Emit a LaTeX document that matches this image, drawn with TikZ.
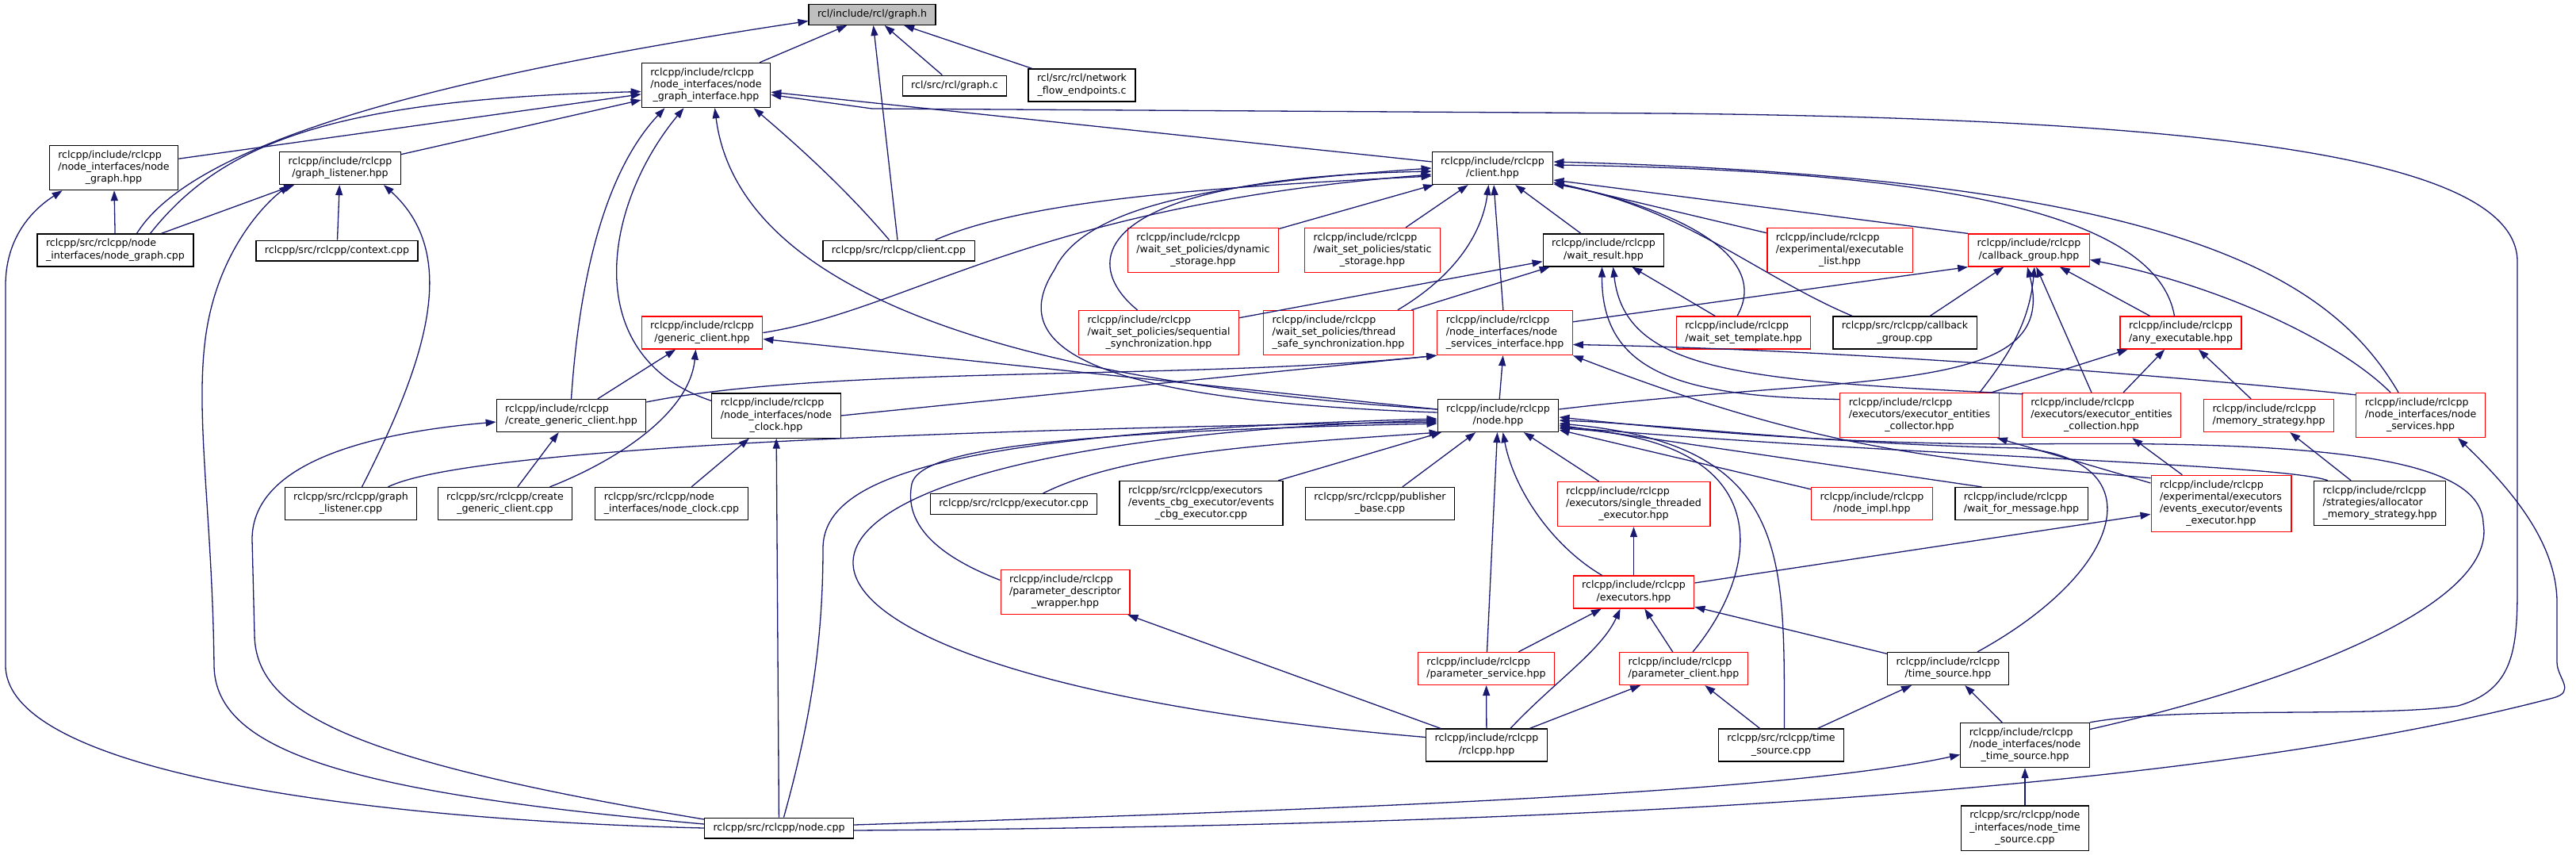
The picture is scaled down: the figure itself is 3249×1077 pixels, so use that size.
\documentclass[tikz,border=0pt]{standalone}
\usepackage{fontspec}
\setmainfont{DejaVu Sans}
\usepackage{tikz}
\usetikzlibrary{arrows.meta,calc}
\usepackage{xcolor}
\definecolor{edgeblue}{HTML}{191970}
\definecolor{nodegray}{HTML}{BFBFBF}
\newcommand{\ml}[2]{\begin{tabular}{@{}l@{}}#1\\\multicolumn{1}{@{}c@{}}{#2}\end{tabular}}

\begin{document}
\begin{tikzpicture}[x=1pt,y=-1pt,
  file/.style={draw=black, line width=1.2pt, fill=white, inner xsep=11pt, inner ysep=5.3pt, font=\fontsize{12.6}{15.2}\selectfont},
  trunc/.style={file, draw=red},
  root/.style={file, fill=nodegray},
  dep/.style={draw=edgeblue, line width=1.3pt, -{Triangle[length=13pt,width=9pt]}}]
\useasboundingbox (0,0) rectangle (3249,1077);

\node[root] (gh) at (1100,18.5) {\strut rcl/include/rcl/graph.h};
\node[file] (ngi) at (890.5,107.5) {\ml{rclcpp/include/rclcpp\\/node\_interfaces/node}{\_graph\_interface.hpp}};
\node[file] (gc) at (1204,108) {\strut rcl/src/rcl/graph.c};
\node[file] (nfe) at (1364.5,107.5) {\ml{rcl/src/rcl/network}{\_flow\_endpoints.c}};
\node[file] (ngh) at (143.5,211.5) {\ml{rclcpp/include/rclcpp\\/node\_interfaces/node}{\_graph.hpp}};
\node[file] (glh) at (429,212) {\ml{rclcpp/include/rclcpp}{/graph\_listener.hpp}};
\node[file] (chpp) at (1882.5,212) {\ml{rclcpp/include/rclcpp}{/client.hpp}};
\node[file] (ngcpp) at (145.5,315.5) {\ml{rclcpp/src/rclcpp/node}{\_interfaces/node\_graph.cpp}};
\node[file] (ctx) at (425,316) {\strut rclcpp/src/rclcpp/context.cpp};
\node[file] (ccpp) at (1133.5,316) {\strut rclcpp/src/rclcpp/client.cpp};
\node[trunc] (dyn) at (1517.5,315.5) {\ml{rclcpp/include/rclcpp\\/wait\_set\_policies/dynamic}{\_storage.hpp}};
\node[trunc] (stat) at (1731,315.5) {\ml{rclcpp/include/rclcpp\\/wait\_set\_policies/static}{\_storage.hpp}};
\node[file] (wres) at (2022.5,315.5) {\ml{rclcpp/include/rclcpp}{/wait\_result.hpp}};
\node[trunc] (exl) at (2320.5,315.5) {\ml{rclcpp/include/rclcpp\\/experimental/executable}{\_list.hpp}};
\node[trunc] (cbg) at (2559,315.5) {\ml{rclcpp/include/rclcpp}{/callback\_group.hpp}};
\node[trunc] (gch) at (885.5,419.5) {\ml{rclcpp/include/rclcpp}{/generic\_client.hpp}};
\node[trunc] (seq) at (1461.5,419.5) {\ml{rclcpp/include/rclcpp\\/wait\_set\_policies/sequential}{\_synchronization.hpp}};
\node[trunc] (tss) at (1688,419.5) {\ml{rclcpp/include/rclcpp\\/wait\_set\_policies/thread}{\_safe\_synchronization.hpp}};
\node[trunc] (nsi) at (1898,419.5) {\ml{rclcpp/include/rclcpp\\/node\_interfaces/node}{\_services\_interface.hpp}};
\node[trunc] (wst) at (2199,419.5) {\ml{rclcpp/include/rclcpp}{/wait\_set\_template.hpp}};
\node[file] (cbgcpp) at (2402.5,419.5) {\ml{rclcpp/src/rclcpp/callback}{\_group.cpp}};
\node[trunc] (anyx) at (2750.5,419.5) {\ml{rclcpp/include/rclcpp}{/any\_executable.hpp}};
\node[file] (cgch) at (720.5,524) {\ml{rclcpp/include/rclcpp}{/create\_generic\_client.hpp}};
\node[file] (nch) at (979,524) {\ml{rclcpp/include/rclcpp\\/node\_interfaces/node}{\_clock.hpp}};
\node[file] (nhpp) at (1889.5,524) {\ml{rclcpp/include/rclcpp}{/node.hpp}};
\node[trunc] (eec) at (2421,523.5) {\ml{rclcpp/include/rclcpp\\/executors/executor\_entities}{\_collector.hpp}};
\node[trunc] (eecn) at (2650.5,523.5) {\ml{rclcpp/include/rclcpp\\/executors/executor\_entities}{\_collection.hpp}};
\node[trunc] (mem) at (2861.5,524) {\ml{rclcpp/include/rclcpp}{/memory\_strategy.hpp}};
\node[trunc] (nsv) at (3053,523.5) {\ml{rclcpp/include/rclcpp\\/node\_interfaces/node}{\_services.hpp}};
\node[file] (glcpp) at (442.5,635) {\ml{rclcpp/src/rclcpp/graph}{\_listener.cpp}};
\node[file] (cgcpp) at (637,635) {\ml{rclcpp/src/rclcpp/create}{\_generic\_client.cpp}};
\node[file] (nccpp) at (847,635) {\ml{rclcpp/src/rclcpp/node}{\_interfaces/node\_clock.cpp}};
\node[file] (excpp) at (1278.5,635.5) {\strut rclcpp/src/rclcpp/executor.cpp};
\node[file] (ecbg) at (1515,634.5) {\ml{rclcpp/src/rclcpp/executors\\/events\_cbg\_executor/events}{\_cbg\_executor.cpp}};
\node[file] (pub) at (1740.5,635) {\ml{rclcpp/src/rclcpp/publisher}{\_base.cpp}};
\node[trunc] (ste) at (2060.5,635.5) {\ml{rclcpp/include/rclcpp\\/executors/single\_threaded}{\_executor.hpp}};
\node[trunc] (nimpl) at (2361,635) {\ml{rclcpp/include/rclcpp}{/node\_impl.hpp}};
\node[file] (wfm) at (2549.5,635) {\ml{rclcpp/include/rclcpp}{/wait\_for\_message.hpp}};
\node[trunc] (eee) at (2801.5,635) {\ml{rclcpp/include/rclcpp\\/experimental/executors\\/events\_executor/events}{\_executor.hpp}};
\node[file] (ams) at (3001.5,634.5) {\ml{rclcpp/include/rclcpp\\/strategies/allocator}{\_memory\_strategy.hpp}};
\node[trunc] (pdw) at (1343.5,746.5) {\ml{rclcpp/include/rclcpp\\/parameter\_descriptor}{\_wrapper.hpp}};
\node[trunc] (exs) at (2060.5,746.5) {\ml{rclcpp/include/rclcpp}{/executors.hpp}};
\node[trunc] (psv) at (1874.5,843) {\ml{rclcpp/include/rclcpp}{/parameter\_service.hpp}};
\node[trunc] (pcl) at (2123.5,843) {\ml{rclcpp/include/rclcpp}{/parameter\_client.hpp}};
\node[file] (tsh) at (2457,843) {\ml{rclcpp/include/rclcpp}{/time\_source.hpp}};
\node[file] (rhpp) at (1875,939.5) {\ml{rclcpp/include/rclcpp}{/rclcpp.hpp}};
\node[file] (tscpp) at (2246.5,939.5) {\ml{rclcpp/src/rclcpp/time}{\_source.cpp}};
\node[file] (nts) at (2554,939.5) {\ml{rclcpp/include/rclcpp\\/node\_interfaces/node}{\_time\_source.hpp}};
\node[file] (ntscpp) at (2554,1044) {\ml{rclcpp/src/rclcpp/node\\\_interfaces/node\_time}{\_source.cpp}};
\node[file] (ncpp) at (982.5,1044) {\strut rclcpp/src/rclcpp/node.cpp};

\foreach \a/\b in {ngi/gh, ccpp/gh, gc/gh, nfe/gh, ngh/ngi, glh/ngi, chpp/ngi,
    ngcpp/ngh, ngcpp/glh, ctx/glh, cgcpp/cgch, cgch/gch, nhpp/gch, nccpp/nch, ncpp/nch,
    nhpp/nsi, dyn/chpp, stat/chpp, nsi/chpp, wres/chpp, exl/chpp,
    wst/wres, seq/wres, tss/wres, cbgcpp/cbg, anyx/cbg, eecn/cbg,
    eec/anyx, eecn/anyx, mem/anyx, ams/mem, eee/eec, eee/eecn,
    ecbg/nhpp, pub/nhpp, ste/nhpp, psv/nhpp, nimpl/nhpp, exs/ste, exs/eee,
    psv/exs, pcl/exs, tsh/exs, rhpp/pdw, rhpp/psv, rhpp/pcl,
    tscpp/pcl, tscpp/tsh, nts/tsh, ntscpp/nts}
  \draw[dep] (\a) -- (\b);

\draw[dep] (nch.east) -- (nsi.south west);
\draw[dep] (cbg.north west) -- ($(chpp.east)+(0,15)$);
\draw[dep] ($(nsi.north east)+(0,15)$) -- (cbg.south west);
\draw[dep] ($(wfm.north)+(-50,0)$) -- ($(nhpp.east)+(0,12)$);

\draw[dep] ($(ngcpp.north)+(27,0)$) .. controls (250,170) and (600,90) .. ($(gh.west)+(0,8)$);
\draw[dep] ($(ngcpp.north)+(44,0)$) .. controls (280,180) and (420,125) .. ($(ngi.west)+(0,8)$);
\draw[dep] (cgch.north) .. controls (730,360) and (760,220) .. ($(ngi.south)+(-52,0)$);
\draw[dep] ($(nch.north west)+(0,10)$) .. controls (730,450) and (760,260) .. ($(ngi.south)+(-28,0)$);
\draw[dep] ($(nhpp.west)+(0,-8)$) .. controls (1250,480) and (930,360) .. ($(ngi.south)+(11,0)$);
\draw[dep] ($(ccpp.north)+(-12,0)$) .. controls (1060,230) and (990,170) .. ($(ngi.south)+(60,0)$);
\draw[dep] (ncpp.west) .. controls (500,1035) and (10,980) .. (7,840) -- (7,360) .. controls (7,300) and (40,265) .. ($(ngh.south west)+(17,0)$);
\draw[dep] ($(ncpp.west)+(0,-5)$) .. controls (450,1000) and (272,950) .. (270,840) .. controls (268,650) and (245,520) .. (260,420) .. controls (275,320) and (330,260) .. ($(glh.south west)+(13,0)$);
\draw[dep] ($(glcpp.north)+(14,0)$) .. controls (540,450) and (580,320) .. ($(glh.south east)+(-22,0)$);
\draw[dep] ($(glcpp.north east)+(-37,0)$) .. controls (600,560) and (1300,540) .. ($(nhpp.west)+(0,8)$);
\draw[dep] ($(ncpp.west)+(0,-11)$) .. controls (450,960) and (322,900) .. (321,800) -- (318,680) .. controls (318,600) and (420,550) .. ($(cgch.west)+(0,8)$);
\draw[dep] ($(cgcpp.north east)+(-29,0)$) .. controls (780,580) and (870,520) .. ($(gch.south)+(-8,0)$);
\draw[dep] (gch.east) .. controls (1150,390) and (1300,260) .. ($(chpp.west)+(0,8)$);
\draw[dep] ($(ncpp.north)+(6,0)$) .. controls (1025,900) and (1038,800) .. (1038,690) .. controls (1040,600) and (1200,545) .. ($(nhpp.west)+(0,4)$);
\draw[dep] ($(excpp.north)+(37,0)$) .. controls (1420,570) and (1600,560) .. ($(nhpp.south west)+(3,0)$);
\draw[dep] ($(exs.north west)+(37,0)$) .. controls (1960,690) and (1910,620) .. ($(nhpp.south)+(6,0)$);
\draw[dep] ($(rhpp.west)+(0,-10)$) .. controls (850,850) and (820,560) .. ($(nhpp.west)+(0,6)$);
\draw[dep] ($(pdw.west)+(0,-15)$) .. controls (1180,700) and (1140,660) .. (1150,610) .. controls (1160,570) and (1300,545) .. ($(nhpp.west)+(0,10)$);
\draw[dep] ($(rhpp.north)+(30,0)$) .. controls (1960,860) and (2020,820) .. ($(exs.south west)+(60,0)$);
\draw[dep] ($(pcl.north)+(11.5,0)$) .. controls (2220,720) and (2250,555) .. ($(nhpp.east)+(0,16)$);
\draw[dep] ($(tscpp.north)+(4,0)$) .. controls (2250,700) and (2260,560) .. ($(nhpp.east)+(0,10)$);
\draw[dep] ($(tsh.north east)+(-40,0)$) .. controls (2680,720) and (2720,580) .. (2550,565) .. controls (2300,560) and (2100,535) .. ($(nhpp.east)+(0,6)$);
\draw[dep] ($(nts.east)+(0,-20)$) .. controls (2900,860) and (3150,760) .. (3132,660) .. controls (3130,580) and (2950,555) .. (2550,560) .. controls (2300,560) and (2100,540) .. ($(nhpp.east)+(0,2)$);
\draw[dep] (nts.north east) .. controls (2750,890) and (3000,905) .. (3100,890) .. controls (3170,870) and (3175,820) .. (3175,740) -- (3175,330) .. controls (3175,200) and (2800,150) .. (2100,143) -- (1100,137) -- ($(ngi.east)+(0,12)$);
\draw[dep] ($(ncpp.east)+(0,-4)$) .. controls (1700,1020) and (2250,1000) .. ($(nts.west)+(0,12)$);
\draw[dep] ($(ncpp.east)+(0,3)$) .. controls (2100,1040) and (2800,990) .. (3220,880) .. controls (3250,872) and (3225,855) .. (3225,835) -- (3225,760) .. controls (3225,680) and (3160,610) .. ($(nsv.south)+(47,0)$);
\draw[dep] ($(nsv.north)+(-28,0)$) .. controls (2940,350) and (2750,225) .. ($(chpp.east)+(0,-8)$);
\draw[dep] ($(anyx.north)+(-8,0)$) .. controls (2720,270) and (2450,215) .. ($(chpp.east)+(0,-4)$);
\draw[dep] ($(wst.north)+(-8,0)$) .. controls (2230,330) and (2140,270) .. ($(chpp.east)+(0,18)$);
\draw[dep] ($(cbgcpp.north west)+(25,0)$) .. controls (2220,350) and (2120,260) .. ($(chpp.east)+(0,20)$);
\draw[dep] ($(eec.west)+(0,-20)$) .. controls (2120,500) and (2020,470) .. ($(wres.south)+(-2,0)$);
\draw[dep] ($(eecn.north west)+(2,2)$) .. controls (2200,480) and (2050,470) .. ($(wres.south)+(12,0)$);
\draw[dep] ($(seq.north)+(-27,0)$) .. controls (1360,330) and (1375,225) .. ($(chpp.west)+(0,4)$);
\draw[dep] ($(nhpp.west)+(0,-4)$) .. controls (1380,505) and (1265,440) .. (1330,340) .. controls (1370,255) and (1550,230) .. (chpp.west);
\draw[dep] ($(tss.north east)+(-20,0)$) .. controls (1840,345) and (1870,290) .. ($(chpp.south)+(-5,0)$);
\draw[dep] ($(ccpp.north east)+(-50,0)$) .. controls (1300,250) and (1550,235) .. ($(chpp.west)+(0,10)$);
\draw[dep] ($(nhpp.east)+(0,-8)$) .. controls (2350,470) and (2600,500) .. ($(cbg.south)+(-2,0)$);
\draw[dep] ($(eec.north east)+(-25,0)$) .. controls (2540,440) and (2560,400) .. ($(cbg.south)+(7,0)$);
\draw[dep] ($(nsv.north)+(-38,0)$) .. controls (2950,430) and (2800,360) .. ($(cbg.east)+(0,12)$);
\draw[dep] ($(eee.north west)+(0,4)$) .. controls (2450,580) and (2300,570) .. (nsi.south east);
\draw[dep] ($(nsv.north west)+(0,3)$) .. controls (2700,470) and (2300,440) .. ($(nsi.east)+(0,15)$);
\draw[dep] ($(cgch.north east)+(0,4)$) .. controls (1050,460) and (1500,480) .. (nsi.south west);
\draw[dep] ($(ams.north west)+(18,0)$) .. controls (2880,585) and (2400,575) .. ($(nhpp.east)+(0,14)$);
\end{tikzpicture}
\end{document}
